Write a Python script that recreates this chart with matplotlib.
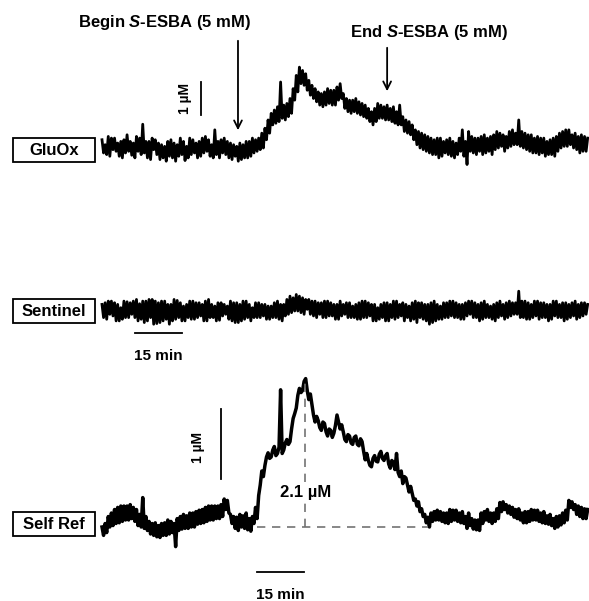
import numpy as np
import matplotlib.pyplot as plt
from matplotlib.patches import Rectangle

plt.rcParams['font.family'] = ['Liberation Sans', 'DejaVu Sans']
plt.rcParams['mathtext.fontset'] = 'custom'
plt.rcParams['mathtext.it'] = 'Liberation Sans:italic:bold'
plt.rcParams['mathtext.rm'] = 'Liberation Sans:bold'

# traces in uM, one sample every half minute (each row = 5 min)
glu_ox = [
    0.25, -0.15, 0.1, -0.2, 0.35, -0.25, 0.3, -0.05, 0.3, -0.1,
    0.15, -0.25, 0.2, -0.3, 0.25, -0.15, 0.4, -0.1, 0.2, -0.22,
    0.15, -0.3, 0.35, -0.1, 0.3, -0.2, 0.72, -0.15, 0.2, -0.3,
    0.2, -0.35, 0.3, -0.05, 0.25, -0.2, 0.15, -0.35, 0.1, -0.3,
    0.05, -0.4, 0.2, -0.25, 0.25, -0.3, 0.15, -0.4, 0.1, -0.25,
    0.3, -0.2, 0.2, -0.38, 0.05, -0.3, 0.3, -0.2, 0.25, -0.15,
    0.15, -0.3, 0.2, -0.25, 0.3, -0.15, 0.35, -0.1, 0.25, -0.25,
    0.1, -0.3, 0.55, -0.2, 0.2, -0.3, 0.25, -0.15, 0.3, -0.2,
    0.2, -0.3, 0.15, -0.35, 0.1, -0.25, 0.05, -0.4, 0.15, -0.35,
    0.1, -0.3, 0.2, -0.3, 0.2, -0.25, 0.3, -0.15, 0.25, -0.1,
    0.3, -0.05, 0.45, 0.0, 0.6, 0.25, 0.85, 0.45, 1.05, 0.7,
    1.15, 0.75, 1.25, 0.8, 2.0, 0.9, 1.3, 0.85, 1.35, 0.95,
    1.5, 1.05, 1.8, 1.45, 2.2, 1.7, 2.45, 1.95, 2.35, 1.9,
    2.25, 1.75, 2.05, 1.6, 1.9, 1.5, 1.8, 1.4, 1.7, 1.3,
    1.65, 1.25, 1.7, 1.3, 1.8, 1.35, 1.75, 1.3, 1.75, 1.3,
    1.85, 1.45, 1.95, 1.5, 1.65, 1.2, 1.5, 1.1, 1.45, 1.05,
    1.45, 1.1, 1.5, 1.05, 1.4, 1.0, 1.35, 0.95, 1.3, 0.9,
    1.2, 0.8, 1.1, 0.7, 1.2, 0.8, 1.35, 0.9, 1.3, 0.9,
    1.25, 0.85, 1.3, 0.85, 1.2, 0.8, 1.25, 0.75, 1.1, 0.7,
    1.3, 0.7, 0.95, 0.5, 0.85, 0.45, 0.8, 0.4, 0.7, 0.25,
    0.55, 0.1, 0.5, 0.0, 0.45, -0.05, 0.4, -0.1, 0.35, -0.15,
    0.3, -0.2, 0.25, -0.2, 0.3, -0.3, 0.3, -0.25, 0.2, -0.15,
    0.25, -0.2, 0.3, -0.25, 0.2, -0.3, 0.15, -0.2, 0.3, -0.1,
    0.55, -0.25, 0.2, -0.5, 0.5, -0.1, 0.35, -0.15, 0.3, -0.2,
    0.3, -0.1, 0.35, -0.2, 0.4, -0.15, 0.3, -0.1, 0.35, -0.2,
    0.4, -0.05, 0.5, 0.0, 0.45, 0.05, 0.4, -0.1, 0.35, 0.0,
    0.5, 0.05, 0.55, 0.1, 0.45, 0.1, 0.85, 0.05, 0.5, 0.0,
    0.45, -0.05, 0.4, -0.1, 0.4, -0.15, 0.3, -0.15, 0.35, -0.2,
    0.3, -0.15, 0.3, -0.25, 0.2, -0.2, 0.25, -0.2, 0.3, -0.25,
    0.35, -0.1, 0.45, 0.0, 0.5, 0.05, 0.55, 0.05, 0.55, 0.1,
    0.4, 0.0, 0.45, -0.05, 0.35, -0.15, 0.4, -0.1, 0.35, -0.1,
    0.3]

sentinel = [
    0.2, -0.2, 0.25, -0.25, 0.3, -0.1, 0.3, -0.15, 0.25, -0.3,
    0.2, -0.3, 0.1, -0.25, 0.3, -0.2, 0.28, -0.2, 0.25, -0.1,
    0.3, -0.2, 0.35, -0.3, 0.22, -0.25, 0.3, -0.35, 0.3, -0.3,
    0.35, -0.2, 0.35, -0.4, 0.3, -0.38, 0.25, -0.35, 0.3, -0.3,
    0.3, -0.25, 0.2, -0.4, 0.2, -0.3, 0.35, -0.25, 0.32, -0.2,
    0.25, -0.3, 0.15, -0.3, 0.2, -0.2, 0.3, -0.25, 0.3, -0.25,
    0.25, -0.2, 0.25, -0.15, 0.2, -0.3, 0.3, -0.3, 0.35, -0.2,
    0.2, -0.2, 0.15, -0.3, 0.25, -0.28, 0.25, -0.15, 0.2, -0.1,
    0.15, -0.25, 0.3, -0.3, 0.25, -0.35, 0.25, -0.35, 0.2, -0.3,
    0.3, -0.25, 0.3, -0.2, 0.2, -0.3, 0.1, -0.2, 0.25, -0.2,
    0.25, -0.2, 0.2, -0.15, 0.2, -0.25, 0.15, -0.25, 0.15, -0.2,
    0.25, -0.2, 0.3, -0.25, 0.2, -0.3, 0.2, -0.15, 0.35, -0.1,
    0.45, -0.05, 0.4, 0.0, 0.5, 0.0, 0.45, -0.05, 0.4, -0.1,
    0.35, 0.05, 0.35, -0.1, 0.3, -0.15, 0.3, -0.2, 0.25, -0.1,
    0.25, -0.2, 0.3, -0.2, 0.3, -0.15, 0.25, -0.15, 0.2, -0.25,
    0.2, -0.25, 0.3, -0.15, 0.2, -0.1, 0.25, -0.2, 0.25, -0.2,
    0.15, -0.2, 0.2, -0.25, 0.25, -0.25, 0.3, -0.2, 0.3, -0.2,
    0.25, -0.15, 0.2, -0.3, 0.2, -0.3, 0.1, -0.25, 0.2, -0.2,
    0.25, -0.3, 0.25, -0.3, 0.2, -0.2, 0.3, -0.25, 0.3, -0.2,
    0.2, -0.15, 0.25, -0.3, 0.2, -0.2, 0.15, -0.3, 0.25, -0.25,
    0.3, -0.35, 0.25, -0.2, 0.25, -0.25, 0.2, -0.3, 0.2, -0.4,
    0.25, -0.35, 0.3, -0.3, 0.2, -0.25, 0.15, -0.25, 0.25, -0.2,
    0.25, -0.2, 0.3, -0.15, 0.3, -0.2, 0.25, -0.2, 0.2, -0.25,
    0.2, -0.25, 0.25, -0.15, 0.3, -0.1, 0.3, -0.2, 0.25, -0.2,
    0.2, -0.3, 0.25, -0.25, 0.3, -0.2, 0.2, -0.2, 0.15, -0.25,
    0.2, -0.3, 0.25, -0.2, 0.3, -0.15, 0.2, -0.25, 0.25, -0.2,
    0.3, -0.15, 0.25, -0.1, 0.25, -0.1, 0.6, -0.2, 0.3, -0.2,
    0.3, -0.25, 0.25, -0.25, 0.2, -0.2, 0.3, -0.15, 0.3, -0.25,
    0.25, -0.2, 0.25, -0.2, 0.2, -0.3, 0.2, -0.25, 0.3, -0.15,
    0.3, -0.2, 0.2, -0.2, 0.25, -0.3, 0.25, -0.25, 0.2, -0.2,
    0.25, -0.15, 0.3, -0.25, 0.2, -0.2, 0.25, -0.15, 0.25, -0.1,
    0.2]

self_ref = [
    0.0, -0.12, 0.05, -0.08, 0.15, 0.0, 0.2, 0.02, 0.25, 0.05,
    0.28, 0.06, 0.3, 0.08, 0.3, 0.1, 0.3, 0.1, 0.32, 0.12,
    0.28, 0.08, 0.25, 0.02, 0.18, 0.0, 0.42, -0.02, 0.15, -0.05,
    0.08, -0.1, 0.05, -0.12, 0.06, -0.14, 0.02, -0.15, 0.05, -0.12,
    0.06, -0.12, 0.1, -0.1, 0.08, -0.08, 0.05, -0.28, 0.12, -0.05,
    0.15, -0.03, 0.18, -0.02, 0.16, -0.02, 0.2, 0.0, 0.2, 0.0,
    0.22, 0.04, 0.24, 0.05, 0.25, 0.06, 0.28, 0.08, 0.3, 0.1,
    0.3, 0.1, 0.3, 0.12, 0.3, 0.12, 0.32, 0.15, 0.4, 0.25,
    0.38, 0.2, 0.18, 0.05, 0.15, -0.02, 0.14, -0.05, 0.18, 0.0,
    0.16, -0.02, 0.2, -0.04, 0.12, -0.06, 0.15, 0.05, 0.28, 0.12,
    0.45, 0.6, 0.8, 0.72, 0.88, 1.0, 1.06, 0.98, 1.0, 1.1,
    1.15, 1.02, 1.05, 1.14, 1.96, 1.05, 1.1, 1.2, 1.25, 1.18,
    1.22, 1.4, 1.55, 1.62, 1.7, 1.88, 1.98, 1.92, 1.95, 2.08,
    2.12, 1.95, 1.82, 1.9, 1.75, 1.6, 1.5, 1.58, 1.52, 1.42,
    1.38, 1.5, 1.48, 1.36, 1.3, 1.4, 1.38, 1.28, 1.34, 1.45,
    1.6, 1.5, 1.4, 1.46, 1.36, 1.25, 1.22, 1.32, 1.3, 1.2,
    1.18, 1.28, 1.3, 1.18, 1.16, 1.26, 1.22, 1.08, 0.96, 1.05,
    0.95, 0.88, 0.86, 0.98, 1.02, 0.94, 0.93, 1.04, 1.08, 0.98,
    0.95, 1.02, 1.05, 0.9, 0.84, 0.95, 0.92, 0.82, 1.05, 0.78,
    0.72, 0.8, 0.62, 0.72, 0.7, 0.6, 0.5, 0.58, 0.48, 0.38,
    0.4, 0.3, 0.36, 0.22, 0.26, 0.15, 0.18, 0.06, 0.14, 0.0,
    0.2, 0.08, 0.22, 0.1, 0.24, 0.1, 0.22, 0.08, 0.2, 0.06,
    0.2, 0.05, 0.25, 0.08, 0.24, 0.1, 0.24, 0.08, 0.2, 0.06,
    0.22, 0.05, 0.15, -0.02, 0.2, 0.02, 0.12, -0.03, 0.1, -0.04,
    0.1, -0.05, 0.2, 0.05, 0.22, 0.1, 0.25, 0.08, 0.2, 0.05,
    0.2, 0.08, 0.26, 0.12, 0.35, 0.22, 0.36, 0.25, 0.32, 0.2,
    0.3, 0.18, 0.28, 0.14, 0.25, 0.12, 0.26, 0.1, 0.2, 0.06,
    0.22, 0.06, 0.22, 0.08, 0.25, 0.1, 0.24, 0.1, 0.24, 0.08,
    0.2, 0.06, 0.22, 0.05, 0.16, 0.04, 0.18, 0.02, 0.12, -0.02,
    0.15, 0.0, 0.16, 0.03, 0.2, 0.06, 0.24, 0.1, 0.38, 0.28,
    0.36, 0.25, 0.32, 0.18, 0.3, 0.15, 0.28, 0.12, 0.26, 0.12,
    0.25]

begin_min = 43.4
end_min = 91.0
peak_min = 64.8
peak_um = 2.1
return_min = 104.0

W, H = 589, 601
X0 = 102
PX_PER_MIN = 47 / 15

fig = plt.figure(figsize=(W / 100, H / 100), dpi=100)


def trace_axes(base_px, px_per_um):
    ax = fig.add_axes([0, 0, 1, 1])
    ax.set_xlim(-X0 / PX_PER_MIN, (W - X0) / PX_PER_MIN)
    ax.set_ylim(-(H - base_px) / px_per_um, base_px / px_per_um)
    ax.axis('off')
    return ax


ax_glu = trace_axes(148, 33)
ax_sen = trace_axes(311, 33)
ax_ref = trace_axes(527, 70)

for ax, vals, lw in [(ax_glu, glu_ox, 2.0), (ax_sen, sentinel, 2.0), (ax_ref, self_ref, 2.5)]:
    t = np.arange(len(vals)) * 0.5
    ax.plot(t, vals, color='k', lw=lw)

# scale bars
ax_glu.plot([31.6, 31.6], [1.0, 2.0], color='k', lw=1.3)
ax_glu.text(26.5, 1.5, '1 µM', rotation=90, ha='center', va='center',
            fontsize=10, fontweight='bold')
ax_sen.plot([10.5, 25.5], [-0.67, -0.67], color='k', lw=1.3)
ax_sen.text(18, -1.35, '15 min', ha='center', va='center', fontsize=11, fontweight='bold')
ax_ref.plot([38, 38], [0.69, 1.69], color='k', lw=1.3)
ax_ref.text(30.5, 1.14, '1 µM', rotation=90, ha='center', va='center',
            fontsize=10, fontweight='bold')
ax_ref.plot([49.5, 64.5], [-0.64, -0.64], color='k', lw=1.3)
ax_ref.text(57, -0.97, '15 min', ha='center', va='center', fontsize=11, fontweight='bold')

# peak amplitude
ax_ref.plot([49.5, return_min], [0, 0], color='0.45', lw=1.2, ls=(0, (5, 4)))
ax_ref.plot([peak_min, peak_min], [0, peak_um], color='0.45', lw=1.2, ls=(0, (5, 4)))
ax_ref.text(peak_min + 0.3, 0.5, f'{peak_um} µM', ha='center', va='center', fontsize=12,
            fontweight='bold', zorder=5,
            bbox=dict(facecolor='white', edgecolor='none', pad=1))

# labels, boxes, arrows
ov = fig.add_axes([0, 0, 1, 1])
ov.set_xlim(0, W)
ov.set_ylim(H, 0)
ov.axis('off')

for name, top in [('GluOx', 138), ('Sentinel', 299), ('Self Ref', 512)]:
    ov.add_patch(Rectangle((13, top), 82, 24, fill=False, lw=1.3, ec='k'))
    ov.text(54, top + 12.5, name, ha='center', va='center', fontsize=12, fontweight='bold')

ov.text(165, 23, r'Begin $\mathit{S}$-ESBA (5 mM)', ha='center', va='center',
        fontsize=12, fontweight='bold')
ov.annotate('', xy=(X0 + begin_min * PX_PER_MIN, 133), xytext=(X0 + begin_min * PX_PER_MIN, 38),
            arrowprops=dict(arrowstyle='->', lw=1.3, color='k', mutation_scale=14))
ov.text(429, 32, r'End $\mathit{S}$-ESBA (5 mM)', ha='center', va='center',
        fontsize=12, fontweight='bold')
ov.annotate('', xy=(X0 + end_min * PX_PER_MIN, 94), xytext=(X0 + end_min * PX_PER_MIN, 45),
            arrowprops=dict(arrowstyle='->', lw=1.3, color='k', mutation_scale=14))

fig.savefig('out.png', dpi=100)
